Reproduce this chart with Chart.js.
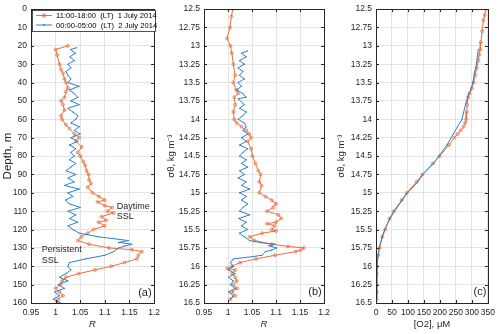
<!DOCTYPE html>
<html>
<head>
<meta charset="utf-8">
<script src="https://cdn.jsdelivr.net/npm/chart.js@4"></script>
<style>
body { margin: 0; background: #fff; width: 500px; height: 334px; position: relative; overflow: hidden; }
canvas { position: absolute; top: 0; }
</style>
</head>
<body>
<canvas id="chartA" width="165" height="334" style="left:0px"></canvas>
<canvas id="chartB" width="170" height="334" style="left:165px"></canvas>
<canvas id="chartC" width="165" height="334" style="left:335px"></canvas>
<script>
// panel (a): R vs depth
const depthDay = [20, 22, 25, 30, 33, 35, 38, 40, 43, 45, 48, 50, 52, 55, 58, 60, 63, 65, 68, 70, 72, 75, 78, 80, 83, 85, 88, 90, 93, 95, 97, 100, 102, 104, 105, 107, 108, 110, 111, 113, 115, 116, 118, 120, 122, 124, 126, 128, 130, 131, 132, 134, 136, 138, 140, 142, 144, 146, 148, 150, 152, 154, 156, 158, 160];
const rDay = [1.025, 1.0, 1.003, 1.008, 1.011, 1.015, 1.018, 1.021, 1.025, 1.021, 1.018, 1.011, 1.015, 1.018, 1.011, 1.013, 1.021, 1.028, 1.038, 1.048, 1.041, 1.053, 1.045, 1.05, 1.056, 1.06, 1.063, 1.067, 1.068, 1.072, 1.065, 1.075, 1.088, 1.1, 1.085, 1.1, 1.115, 1.105, 1.118, 1.093, 1.103, 1.087, 1.1, 1.077, 1.065, 1.052, 1.045, 1.068, 1.108, 1.155, 1.175, 1.168, 1.165, 1.14, 1.113, 1.08, 1.047, 1.021, 1.013, 1.01, 1.0, 1.008, 1.015, 1.005, 1.003];
const depthNight = [21, 22, 24, 26, 28, 30, 32, 34, 36, 38, 40, 42, 44, 46, 48, 50, 52, 54, 56, 58, 60, 62, 64, 66, 68, 70, 72, 74, 76, 78, 80, 82, 84, 86, 88, 90, 92, 94, 96, 98, 100, 102, 104, 106, 108, 110, 112, 114, 116, 118, 120, 122, 124, 126, 127, 128, 129, 130, 132, 134, 136, 138, 140, 142, 144, 146, 148, 150, 152, 154, 156, 158, 160];
const rNight = [1.043, 1.03, 1.04, 1.029, 1.038, 1.025, 1.031, 1.021, 1.025, 1.031, 1.025, 1.048, 1.028, 1.038, 1.045, 1.031, 1.048, 1.025, 1.035, 1.045, 1.041, 1.031, 1.048, 1.038, 1.05, 1.031, 1.045, 1.028, 1.041, 1.031, 1.038, 1.028, 1.041, 1.031, 1.021, 1.041, 1.025, 1.038, 1.018, 1.048, 1.025, 1.035, 1.02, 1.028, 1.05, 1.025, 1.041, 1.028, 1.045, 1.025, 1.035, 1.048, 1.088, 1.148, 1.128, 1.155, 1.14, 1.128, 1.118, 1.1, 1.061, 1.028, 1.025, 1.031, 1.021, 1.008, 1.025, 1.005, 1.018, 0.998, 1.008, 0.995, 1.011];

// panel (b): R vs sigma-theta
const sigDay = [12.5, 12.6, 12.75, 12.9, 13.0, 13.1, 13.25, 13.4, 13.5, 13.6, 13.65, 13.7, 13.8, 13.9, 14.0, 14.05, 14.1, 14.15, 14.2, 14.25, 14.3, 14.4, 14.5, 14.6, 14.7, 14.75, 14.85, 14.9, 15.0, 15.05, 15.1, 15.15, 15.2, 15.25, 15.3, 15.35, 15.4, 15.42, 15.45, 15.5, 15.52, 15.55, 15.6, 15.65, 15.7, 15.73, 15.75, 15.78, 15.8, 15.85, 15.9, 15.95, 16.0, 16.03, 16.05, 16.1, 16.15, 16.2, 16.25, 16.3, 16.35, 16.4, 16.45];
const rDaySig = [1.01, 1.007, 1.004, 0.998, 1.005, 1.008, 1.011, 1.015, 1.011, 1.017, 1.021, 1.013, 1.015, 1.011, 1.013, 1.018, 1.028, 1.038, 1.044, 1.048, 1.041, 1.048, 1.051, 1.057, 1.063, 1.068, 1.065, 1.07, 1.065, 1.078, 1.091, 1.1, 1.094, 1.081, 1.105, 1.111, 1.1, 1.081, 1.097, 1.091, 1.1, 1.071, 1.045, 1.055, 1.091, 1.125, 1.158, 1.151, 1.141, 1.098, 1.058, 1.025, 1.008, 0.998, 1.015, 1.008, 1.015, 1.018, 1.011, 1.019, 1.008, 1.015, 1.004];
const sigNight = [13.07, 13.1, 13.15, 13.2, 13.25, 13.3, 13.35, 13.4, 13.45, 13.5, 13.55, 13.6, 13.65, 13.7, 13.72, 13.8, 13.85, 13.9, 13.95, 14.0, 14.05, 14.1, 14.15, 14.2, 14.25, 14.3, 14.35, 14.4, 14.45, 14.5, 14.55, 14.6, 14.65, 14.7, 14.75, 14.8, 14.85, 14.9, 14.95, 15.0, 15.05, 15.1, 15.15, 15.2, 15.25, 15.3, 15.35, 15.4, 15.45, 15.5, 15.55, 15.6, 15.65, 15.68, 15.7, 15.72, 15.75, 15.78, 15.8, 15.85, 15.88, 15.9, 15.95, 16.0, 16.05, 16.1, 16.15, 16.2, 16.25, 16.3, 16.35, 16.4, 16.45];
const rNightSig = [1.041, 1.028, 1.038, 1.024, 1.034, 1.021, 1.031, 1.024, 1.034, 1.021, 1.028, 1.018, 1.031, 1.038, 1.021, 1.034, 1.024, 1.038, 1.031, 1.021, 1.034, 1.038, 1.031, 1.041, 1.028, 1.038, 1.024, 1.041, 1.031, 1.024, 1.038, 1.028, 1.041, 1.024, 1.034, 1.021, 1.038, 1.028, 1.045, 1.024, 1.038, 1.028, 1.041, 1.031, 1.024, 1.045, 1.022, 1.038, 1.028, 1.041, 1.024, 1.034, 1.045, 1.071, 1.098, 1.085, 1.101, 1.091, 1.078, 1.071, 1.038, 1.011, 1.005, 1.011, 1.001, 1.015, 1.001, 1.011, 1.005, 1.015, 1.001, 1.011, 1.005];

// panel (c): oxygen vs sigma-theta
const sigO2Day = [12.5, 12.58, 12.65, 12.8, 12.95, 13.05, 13.12, 13.2, 13.3, 13.4, 13.5, 13.58, 13.65, 13.7, 13.8, 13.9, 14.0, 14.05, 14.1, 14.15, 14.2, 14.25, 14.35, 14.5, 14.6, 14.75, 14.85, 15.0, 15.1, 15.25, 15.35, 15.5, 15.6, 15.75, 15.85, 16.0, 16.1, 16.25, 16.35, 16.45];
const o2Day = [343, 340, 336, 332, 328, 326, 323, 320, 315, 310, 305, 300, 292, 288, 285, 284, 282, 279, 274, 265, 255, 245, 228, 199, 178, 145, 127, 96, 80, 55, 42, 29, 20, 11, 7, 3, 2, 2, 2, 2];
const sigO2Night = [13.05, 13.15, 13.25, 13.35, 13.5, 13.6, 13.65, 13.7, 13.75, 13.85, 14.0, 14.1, 14.2, 14.25, 14.35, 14.5, 14.6, 14.75, 14.85, 15.0, 15.1, 15.25, 15.35, 15.5, 15.6, 15.75, 15.85, 16.0, 16.1, 16.25, 16.35, 16.43];
const o2Night = [320, 317, 314, 309, 303, 296, 291, 287, 283, 277, 269, 255, 242, 235, 222, 197, 180, 147, 131, 99, 82, 58, 44, 27, 19, 10, 6, 3, 2, 2, 2, 2];

const legendLabels = ['11:00-18:00  (LT)  1 July 2014', '00:00-05:00  (LT)  2 July 2014'];

const ORANGE = '#E8703F';
const BLUE = '#2B81CC';
const INK = '#262626';
const GRIDC = '#e3e3e3';
const FONT = '"Liberation Sans", Arial, sans-serif';

function pts(ys, xs) {
    return xs.map((x, i) => ({ x: x, y: ys[i] }));
}

function dayLine(data) {
    return {
        data: data, borderColor: ORANGE, borderWidth: 1, showLine: true,
        pointStyle: 'circle', pointRadius: 1.5, pointBorderWidth: 0.7,
        pointBorderColor: ORANGE, pointBackgroundColor: 'rgba(232,112,63,0.2)', order: 2
    };
}

function nightLine(data) {
    return {
        data: data, borderColor: BLUE, borderWidth: 1, showLine: true,
        pointRadius: 0.6, pointBorderWidth: 0, pointBackgroundColor: BLUE, order: 1
    };
}

function fmt(v) {
    return String(parseFloat(Number(v).toFixed(2)));
}

// box and inward tick marks like matlab
const boxPlugin = {
    id: 'box',
    afterDraw(chart) {
        const a = chart.chartArea, ctx = chart.ctx;
        ctx.save();
        ctx.strokeStyle = INK;
        ctx.lineWidth = 1;
        ctx.beginPath();
        chart.scales.x.ticks.forEach(t => {
            const px = Math.round(chart.scales.x.getPixelForValue(t.value)) + 0.5;
            ctx.moveTo(px, a.bottom); ctx.lineTo(px, a.bottom - 3);
            ctx.moveTo(px, a.top); ctx.lineTo(px, a.top + 3);
        });
        chart.scales.y.ticks.forEach(t => {
            const py = Math.round(chart.scales.y.getPixelForValue(t.value)) + 0.5;
            ctx.moveTo(a.left, py); ctx.lineTo(a.left + 3, py);
            ctx.moveTo(a.right, py); ctx.lineTo(a.right - 3, py);
        });
        ctx.stroke();
        ctx.strokeRect(Math.round(a.left) + 0.5, Math.round(a.top) + 0.5, Math.round(a.right - a.left), Math.round(a.bottom - a.top));
        ctx.restore();
    }
};

// panel letter and text notes
function notesPlugin(notes) {
    return {
        id: 'notes',
        afterDraw(chart) {
            const ctx = chart.ctx;
            ctx.save();
            notes.forEach(n => {
                ctx.font = n.size + 'px ' + FONT;
                ctx.fillStyle = INK;
                ctx.textAlign = n.align || 'left';
                ctx.textBaseline = 'middle';
                ctx.fillText(n.text, chart.scales.x.getPixelForValue(n.x), chart.scales.y.getPixelForValue(n.y));
            });
            ctx.restore();
        }
    };
}

const legendPlugin = {
    id: 'legendBox',
    afterDraw(chart) {
        const ctx = chart.ctx;
        ctx.save();
        ctx.fillStyle = '#fff';
        ctx.fillRect(32, 10, 123, 21);
        ctx.strokeStyle = INK;
        ctx.lineWidth = 0.8;
        ctx.strokeRect(32.5, 10.5, 123, 21);
        const rows = [{ y: 15.5, c: ORANGE, lbl: legendLabels[0], circle: true }, { y: 25, c: BLUE, lbl: legendLabels[1], circle: false }];
        rows.forEach(r => {
            ctx.strokeStyle = r.c;
            ctx.lineWidth = 1;
            ctx.beginPath();
            ctx.moveTo(36, r.y); ctx.lineTo(52, r.y);
            ctx.stroke();
            ctx.beginPath();
            if (r.circle) {
                ctx.arc(44, r.y, 1.6, 0, Math.PI * 2);
                ctx.stroke();
            } else {
                ctx.fillStyle = r.c;
                ctx.arc(44, r.y, 0.9, 0, Math.PI * 2);
                ctx.fill();
            }
            ctx.font = '7.6px ' + FONT;
            ctx.fillStyle = '#000';
            ctx.textAlign = 'left';
            ctx.textBaseline = 'middle';
            ctx.fillText(r.lbl, 56, r.y + 0.5);
        });
        ctx.restore();
    }
};

function makePanel(id, canvasW, left, right, datasets, xs, ys, plugins) {
    return new Chart(document.getElementById(id), {
        type: 'scatter',
        data: { datasets: datasets },
        options: {
            responsive: false,
            animation: false,
            layout: { padding: { left: 0, right: canvasW - right, top: 8, bottom: 0 } },
            plugins: { legend: { display: false }, tooltip: { enabled: false } },
            scales: {
                x: {
                    type: 'linear', min: xs.min, max: xs.max,
                    afterFit(s) { s.height = 31; },
                    grid: { color: GRIDC, drawTicks: false },
                    border: { display: false },
                    ticks: { stepSize: xs.step, autoSkip: false, maxRotation: 0, padding: 5, color: INK, font: { family: FONT, size: 8.5 }, callback: fmt },
                    title: { display: true, text: xs.title, color: INK, padding: { top: 0, bottom: 4 }, font: { family: FONT, size: 9.5, style: xs.italic ? 'italic' : 'normal' } }
                },
                y: {
                    type: 'linear', reverse: true, min: ys.min, max: ys.max,
                    afterFit(s) { s.width = left; },
                    grid: { color: GRIDC, drawTicks: false },
                    border: { display: false },
                    ticks: { stepSize: ys.step, autoSkip: false, padding: 4, color: INK, font: { family: FONT, size: 8.5 }, callback: fmt },
                    title: { display: true, text: ys.title, color: INK, padding: { top: 1, bottom: 0 }, font: { family: FONT, size: ys.tsize } }
                }
            }
        },
        plugins: [boxPlugin].concat(plugins || [])
    });
}

makePanel('chartA', 165, 31, 156,
    [dayLine(pts(depthDay, rDay)), nightLine(pts(depthNight, rNight))],
    { min: 0.95, max: 1.2, step: 0.05, title: 'R', italic: true },
    { min: 0, max: 160, step: 10, title: 'Depth, m', tsize: 11.5 },
    [notesPlugin([
        { text: 'Daytime', x: 1.124, y: 107.5, size: 9 },
        { text: 'SSL', x: 1.124, y: 113, size: 9 },
        { text: 'Persistent', x: 0.972, y: 131, size: 9 },
        { text: 'SSL', x: 0.972, y: 137, size: 9 },
        { text: '(a)', x: 1.195, y: 154.5, size: 11, align: 'right' }
    ]), legendPlugin]);

makePanel('chartB', 170, 39, 164,
    [dayLine(pts(sigDay, rDaySig)), nightLine(pts(sigNight, rNightSig))],
    { min: 0.95, max: 1.2, step: 0.05, title: 'R', italic: true },
    { min: 12.5, max: 16.5, step: 0.25, title: 'σθ, kg m⁻³', tsize: 9.5 },
    [notesPlugin([{ text: '(b)', x: 1.195, y: 16.35, size: 11, align: 'right' }])]);

makePanel('chartC', 165, 41, 154,
    [dayLine(pts(sigO2Day, o2Day)), nightLine(pts(sigO2Night, o2Night))],
    { min: 0, max: 350, step: 50, title: '[O2], μM', italic: false },
    { min: 12.5, max: 16.5, step: 0.25, title: 'σθ, kg m⁻³', tsize: 9.5 },
    [notesPlugin([{ text: '(c)', x: 345, y: 16.35, size: 11, align: 'right' }])]);
</script>
</body>
</html>
